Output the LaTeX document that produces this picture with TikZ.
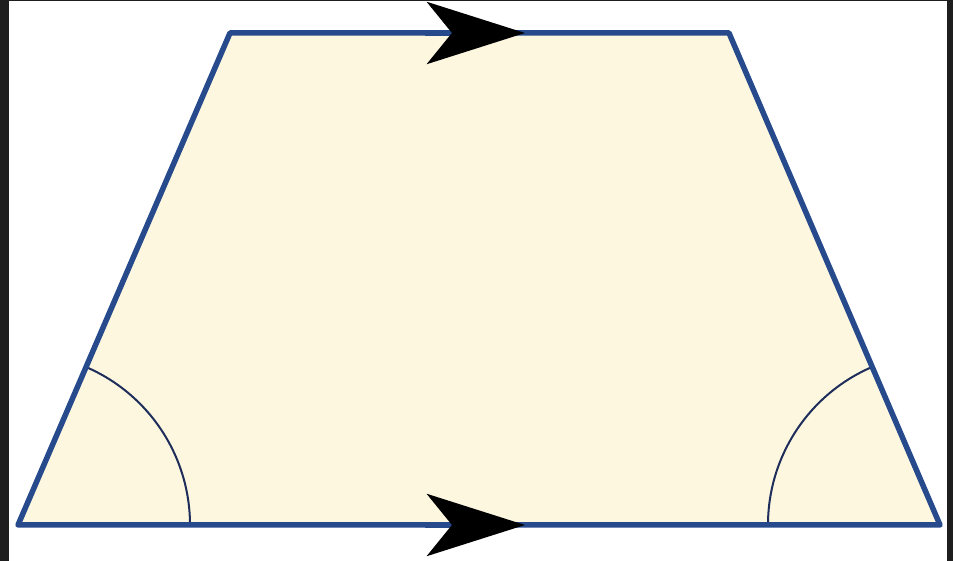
\documentclass[tikz,border=0pt]{standalone}
\usetikzlibrary{arrows.meta}
\definecolor{edgeblue}{RGB}{38,74,140}
\definecolor{arcnavy}{RGB}{30,45,90}
\definecolor{cream}{RGB}{253,247,224}
\definecolor{frame}{RGB}{30,30,30}
\tikzset{parmark/.style={edgeblue,line width=0.055cm,line cap=butt,
  -{Stealth[length=0.98cm,width=0.62cm,inset=0.25cm,black]}}}
\begin{document}
\begin{tikzpicture}[x=0.01cm,y=0.01cm,line cap=round,line join=round]

\coordinate (A) at (18,36);
\coordinate (B) at (940,36);
\coordinate (C) at (729,528);
\coordinate (D) at (230,528);

% dark frame round the white page
\fill[frame] (0,0) rectangle (953,561);
\fill[white] (9,0) rectangle (947,560);
\useasboundingbox (0,0) rectangle (953,561);

\fill[cream] (A)--(B)--(C)--(D)--cycle;

% angle marks at the base
\draw[arcnavy,line width=0.02cm] (A) ++(0:172) arc (0:66.6:172);
\draw[arcnavy,line width=0.02cm] (B) ++(180:172) arc (180:113.2:172);

\draw[edgeblue,line width=0.055cm] (A)--(B)--(C)--(D)--cycle;

% parallel marks
\coordinate (P1) at (425,528);
\coordinate (P2) at (525,528);
\coordinate (Q1) at (425,36);
\coordinate (Q2) at (525,36);
\draw[parmark] (P1)--(P2);
\draw[parmark] (Q1)--(Q2);
\end{tikzpicture}
\end{document}
